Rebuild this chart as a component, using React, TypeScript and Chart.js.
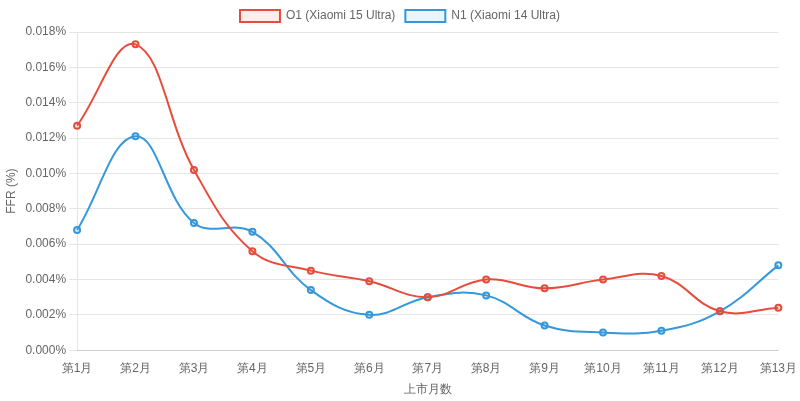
import React, { useEffect, useRef } from 'react';
import Chart from 'chart.js/auto';

const months = ['第1月', '第2月', '第3月', '第4月', '第5月', '第6月', '第7月', '第8月', '第9月', '第10月', '第11月', '第12月', '第13月'];
const o1Values = [0.0127, 0.0173, 0.0102, 0.0056, 0.0045, 0.0039, 0.0030, 0.0040, 0.0035, 0.0040, 0.0042, 0.0022, 0.0024];
const n1Values = [0.0068, 0.0121, 0.0072, 0.0067, 0.0034, 0.0020, 0.0030, 0.0031, 0.0014, 0.0010, 0.0011, 0.0022, 0.0048];

const App: React.FC = () => {
  const canvasRef = useRef<HTMLCanvasElement | null>(null);

  useEffect(() => {
    document.body.style.margin = '0';
    if (!canvasRef.current) return;
    const chart = new Chart(canvasRef.current, {
      type: 'line',
      data: {
        labels: months,
        datasets: [
          {
            label: 'O1 (Xiaomi 15 Ultra)',
            data: o1Values,
            borderColor: '#e74c3c',
            backgroundColor: 'rgba(231, 76, 60, 0.1)',
            borderWidth: 2,
            pointRadius: 3,
            pointBorderWidth: 2,
            tension: 0.4,
          },
          {
            label: 'N1 (Xiaomi 14 Ultra)',
            data: n1Values,
            borderColor: '#3498db',
            backgroundColor: 'rgba(52, 152, 219, 0.1)',
            borderWidth: 2,
            pointRadius: 3,
            pointBorderWidth: 2,
            tension: 0.4,
          },
        ],
      },
      options: {
        responsive: true,
        maintainAspectRatio: false,
        animation: false,
        plugins: {
          legend: { position: 'top' },
        },
        scales: {
          x: {
            grid: { display: false },
            title: { display: true, text: '上市月数' },
          },
          y: {
            min: 0,
            max: 0.018,
            ticks: {
              stepSize: 0.002,
              callback: (v) => Number(v).toFixed(3) + '%',
            },
            title: { display: true, text: 'FFR (%)' },
          },
        },
      },
    });
    return () => chart.destroy();
  }, []);

  return (
    <div style={{ width: 800, height: 401, position: 'relative' }}>
      <canvas ref={canvasRef}></canvas>
    </div>
  );
};

export default App;
